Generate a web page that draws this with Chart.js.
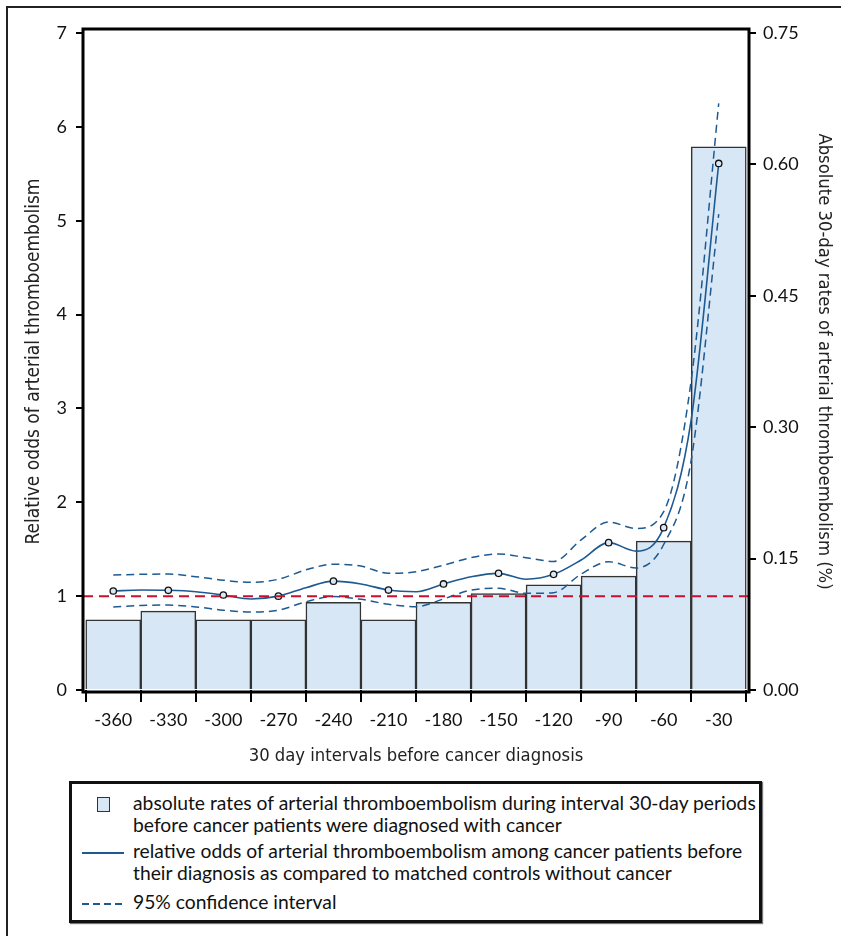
<!DOCTYPE html>
<html>
<head>
<meta charset="utf-8">
<script src="https://cdn.jsdelivr.net/npm/chart.js@4.4.1/dist/chart.umd.min.js"></script>
<style>
  body { margin: 0; background: #fff; width: 841px; height: 936px; overflow: hidden; position: relative; font-family: Lato, 'Noto Sans', sans-serif; }
  .frame { position: absolute; left: 6px; top: 6px; width: 900px; height: 1000px; border: 2px solid #222; }
  .wrap { position: absolute; left: 0; top: 0; width: 841px; height: 780px; }
  .legend { position: absolute; left: 69px; top: 781px; width: 687px; height: 136px; border: 3px solid #111; box-shadow: 1px 1px 1px #777; }
  .item { position: absolute; left: 61px; font-size: 19.3px; line-height: 22px; color: #111; white-space: nowrap; }
  .sym { position: absolute; }
</style>
</head>
<body>
<div class="frame"></div>
<div class="wrap"><canvas id="chart"></canvas></div>
<div class="legend" id="legend"></div>
<script>
// 30-day intervals before diagnosis
const days = [-360, -330, -300, -270, -240, -210, -180, -150, -120, -90, -60, -30];
// absolute 30-day rates (%), right axis
const absRates = [0.08, 0.09, 0.08, 0.08, 0.10, 0.08, 0.10, 0.11, 0.12, 0.13, 0.17, 0.62];
// relative odds at each interval (circles)
const oddsAtInterval = [1.055, 1.062, 1.012, 1.00, 1.16, 1.065, 1.13, 1.243, 1.232, 1.57, 1.73, 5.61];
const curveDays = [-360, -345, -330, -315, -300, -285, -270, -255, -240, -225, -210, -195,
                   -180, -165, -150, -135, -120, -105, -90, -75, -60, -45, -30];
const oddsCurve = [1.055, 1.065, 1.062, 1.047, 1.012, 0.97, 1.00, 1.09, 1.16, 1.13, 1.065, 1.047,
                   1.13, 1.207, 1.243, 1.18, 1.232, 1.385, 1.57, 1.48, 1.73, 2.88, 5.61];
const ciUpper = [1.225, 1.233, 1.235, 1.207, 1.17, 1.147, 1.18, 1.28, 1.34, 1.32, 1.243, 1.26,
                 1.33, 1.41, 1.45, 1.41, 1.37, 1.60, 1.79, 1.72, 1.90, 3.3, 6.25];
const ciLower = [0.885, 0.90, 0.905, 0.885, 0.85, 0.83, 0.85, 0.94, 0.995, 0.966, 0.913, 0.888,
                 0.97, 1.065, 1.083, 1.03, 1.037, 1.235, 1.367, 1.30, 1.55, 2.45, 5.07];
const leftTicks = [0, 1, 2, 3, 4, 5, 6, 7];
const rightTicks = [0, 0.15, 0.30, 0.45, 0.60, 0.75];
const refOdds = 1;

const lineBlue = '#1d5a92';
const barFill = '#d8e7f6';
const tickFont = { family: 'Lato, "Noto Sans", sans-serif', size: 18 };
const titleFamily = '"Liberation Sans Narrow", "DejaVu Sans Condensed", Lato, sans-serif';

const pts = (xs, ys) => xs.map((x, i) => ({ x: x, y: ys[i] }));

// reference line at odds = 1 and the plot frame
const extrasPlugin = {
    id: 'extras',
    afterDatasetsDraw(chart) {
        const { ctx, chartArea, scales } = chart;
        const y = scales.y.getPixelForValue(refOdds);
        ctx.save();
        ctx.strokeStyle = '#c8102e';
        ctx.lineWidth = 2;
        ctx.setLineDash([10, 6]);
        ctx.beginPath();
        ctx.moveTo(chartArea.left, y);
        ctx.lineTo(chartArea.right, y);
        ctx.stroke();
        ctx.restore();
    },
    afterDraw(chart) {
        const { ctx, chartArea } = chart;
        ctx.save();
        ctx.strokeStyle = '#000';
        ctx.lineWidth = 3;
        ctx.strokeRect(chartArea.left, chartArea.top - 4, chartArea.right - chartArea.left, chartArea.bottom - chartArea.top + 6);
        ctx.restore();
    }
};

new Chart(document.getElementById('chart'), {
    type: 'bar',
    data: {
        datasets: [{
            type: 'line',
            data: pts(days, oddsAtInterval),
            showLine: false,
            pointRadius: 3.2,
            pointBorderWidth: 1.3,
            pointBorderColor: '#111',
            pointBackgroundColor: '#dbe8f4',
            yAxisID: 'y',
            order: 0
        }, {
            type: 'line',
            data: pts(curveDays, oddsCurve),
            borderColor: lineBlue,
            borderWidth: 1.6,
            pointRadius: 0,
            cubicInterpolationMode: 'monotone',
            yAxisID: 'y',
            order: 1
        }, {
            type: 'line',
            data: pts(curveDays, ciUpper),
            borderColor: lineBlue,
            borderWidth: 1.5,
            borderDash: [8, 5],
            pointRadius: 0,
            cubicInterpolationMode: 'monotone',
            yAxisID: 'y',
            order: 1
        }, {
            type: 'line',
            data: pts(curveDays, ciLower),
            borderColor: lineBlue,
            borderWidth: 1.5,
            borderDash: [8, 5],
            pointRadius: 0,
            cubicInterpolationMode: 'monotone',
            yAxisID: 'y',
            order: 1
        }, {
            type: 'bar',
            data: pts(days, absRates),
            backgroundColor: barFill,
            borderColor: '#333',
            borderWidth: 1.5,
            barPercentage: 1,
            categoryPercentage: 1,
            yAxisID: 'y1',
            order: 5
        }]
    },
    options: {
        responsive: true,
        maintainAspectRatio: false,
        animation: false,
        layout: { padding: { top: 33, left: 0, right: 0, bottom: 0 } },
        plugins: {
            legend: { display: false },
            tooltip: { enabled: false }
        },
        scales: {
            x: {
                type: 'linear',
                min: -376.5,
                max: -13.5,
                offset: false,
                afterFit: (s) => { s.height = 90; },
                afterBuildTicks: (s) => { s.ticks = days.map(v => ({ value: v })); },
                grid: { drawOnChartArea: false, tickLength: 12, color: '#000', lineWidth: 2 },
                border: { display: false },
                ticks: { font: tickFont, color: '#111', padding: 7, maxRotation: 0 },
                title: { display: true, text: '30 day intervals before cancer diagnosis', font: { family: titleFamily, size: 18.3 }, color: '#222', padding: { bottom: 13 } }
            },
            y: {
                position: 'left',
                min: 0,
                max: 7,
                afterFit: (s) => { s.width = 83; },
                afterBuildTicks: (s) => { s.ticks = leftTicks.map(v => ({ value: v })); },
                grid: { drawOnChartArea: false, tickLength: 7, color: '#000', lineWidth: 2 },
                border: { display: false },
                ticks: { font: tickFont, color: '#111', padding: 9 },
                title: { display: true, text: 'Relative odds of arterial thromboembolism', font: { family: titleFamily, size: 19 }, color: '#222', padding: { top: 23 } }
            },
            y1: {
                position: 'right',
                min: 0,
                max: 0.75,
                afterFit: (s) => { s.width = 92; },
                afterBuildTicks: (s) => { s.ticks = rightTicks.map(v => ({ value: v })); },
                grid: { drawOnChartArea: false, tickLength: 7, color: '#000', lineWidth: 2 },
                border: { display: false },
                ticks: { font: tickFont, color: '#111', padding: 7, callback: (v) => v.toFixed(2) },
                title: { display: true, text: 'Absolute 30-day rates of arterial thromboembolism (%)', font: { family: titleFamily, size: 18.3 }, color: '#222', padding: { top: 6 } }
            }
        }
    },
    plugins: [extrasPlugin]
});

// legend box
const legendItems = [
    { sym: 'box', top: 8, text: 'absolute rates of arterial thromboembolism during interval 30-day periods<br>before cancer patients were diagnosed with cancer' },
    { sym: 'solid', top: 56, text: 'relative odds of arterial thromboembolism among cancer patients before<br>their diagnosis as compared to matched controls without cancer' },
    { sym: 'dash', top: 107, text: '95% confidence interval' }
];
const legend = document.getElementById('legend');
legendItems.forEach(item => {
    const t = document.createElement('div');
    t.className = 'item';
    t.style.top = item.top + 'px';
    t.innerHTML = item.text;
    legend.appendChild(t);
    const s = document.createElement('div');
    s.className = 'sym';
    if (item.sym === 'box') {
        s.style.cssText = 'left:25px;top:' + (item.top + 5) + 'px;width:11px;height:13px;background:' + barFill + ';border:1.5px solid #333;';
    } else if (item.sym === 'solid') {
        s.style.cssText = 'left:10px;top:' + (item.top + 12) + 'px;width:42px;height:1.6px;background:' + lineBlue + ';';
    } else {
        s.style.cssText = 'left:10px;top:' + (item.top + 12) + 'px;width:44px;height:1.6px;background:repeating-linear-gradient(to right,' + lineBlue + ' 0 7px, transparent 7px 11px);';
    }
    legend.appendChild(s);
});
</script>
</body>
</html>
